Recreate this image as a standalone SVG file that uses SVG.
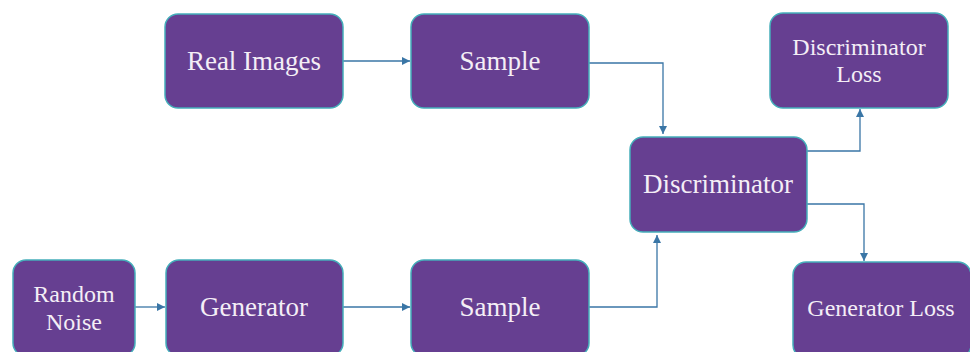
<svg xmlns="http://www.w3.org/2000/svg" width="970" height="352" viewBox="0 0 970 352">
<defs>
<marker id="ah" viewBox="0 0 10 10" refX="10" refY="5" markerWidth="8" markerHeight="8" markerUnits="userSpaceOnUse" orient="auto">
<path d="M0,0 L10,5 L0,10 z" fill="#3a76a6"/>
</marker>
<style>
.box{fill:#663f91;stroke:#45aeba;stroke-width:1.5}
.t{fill:#f4eef6;text-anchor:middle}
.l{font-size:27px}
.s{font-size:24px}
.c{fill:none;stroke:#3a76a6;stroke-width:1.3;marker-end:url(#ah)}
</style>
</defs>
<rect width="970" height="352" fill="#ffffff"/>
<g id="connectors">
<path class="c" d="M343,61 H410"/>
<path class="c" d="M589,63 H663 V134"/>
<path class="c" d="M589,307 H657 V235"/>
<path class="c" d="M807,151 H860 V109"/>
<path class="c" d="M807,204 H864 V261"/>
<path class="c" d="M135,307 H165"/>
<path class="c" d="M343,307 H410"/>
</g>
<g font-family="'Liberation Serif', 'Times New Roman', 'DejaVu Serif', serif">
<g id="real-images">
<rect class="box" x="165" y="14" width="178" height="94" rx="13"/>
<text class="t l" x="254" y="70">Real Images</text>
</g>
<g id="sample-top">
<rect class="box" x="411" y="14" width="178" height="94" rx="13"/>
<text class="t l" x="500" y="70">Sample</text>
</g>
<g id="discriminator">
<rect class="box" x="630" y="137" width="177" height="95" rx="13"/>
<text class="t l" x="718" y="193">Discriminator</text>
</g>
<g id="discriminator-loss">
<rect class="box" x="770" y="13" width="178" height="95" rx="13"/>
<text class="t s" x="859" y="55">Discriminator</text>
<text class="t s" x="859" y="82">Loss</text>
</g>
<g id="random-noise">
<rect class="box" x="13" y="260" width="122" height="96" rx="13"/>
<text class="t s" x="74" y="302">Random</text>
<text class="t s" x="74" y="330">Noise</text>
</g>
<g id="generator">
<rect class="box" x="166" y="260" width="177" height="96" rx="13"/>
<text class="t l" x="254" y="316">Generator</text>
</g>
<g id="sample-bottom">
<rect class="box" x="411" y="260" width="178" height="96" rx="13"/>
<text class="t l" x="500" y="316">Sample</text>
</g>
<g id="generator-loss">
<rect class="box" x="793" y="262" width="178" height="96" rx="13"/>
<text class="t s" x="881" y="316">Generator Loss</text>
</g>
</g>
</svg>
